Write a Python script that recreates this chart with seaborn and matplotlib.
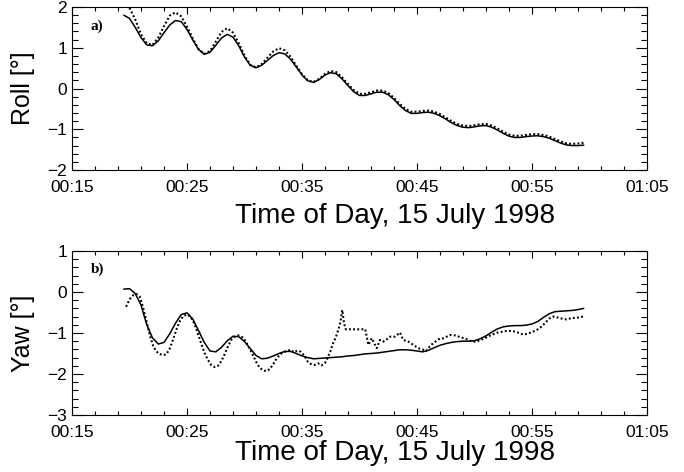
import numpy as np
import pandas as pd
import matplotlib
matplotlib.use("Agg")
import matplotlib.pyplot as plt
import seaborn as sns

# Time in minutes after 00:00 UT, 15 July 1998
roll_time = np.arange(19.5, 60.0, 0.5)
roll_model = [
    1.80, 1.72, 1.50, 1.25, 1.07, 1.05, 1.17, 1.37, 1.56, 1.67,
    1.64, 1.45, 1.19, 0.96, 0.84, 0.89, 1.06, 1.24, 1.33, 1.26,
    1.05, 0.77, 0.57, 0.51, 0.57, 0.69, 0.81, 0.88, 0.85, 0.72,
    0.53, 0.33, 0.19, 0.15, 0.22, 0.33, 0.39, 0.36, 0.23, 0.07,
    -0.08, -0.17, -0.17, -0.13, -0.09, -0.09, -0.15, -0.27, -0.42, -0.54,
    -0.61, -0.61, -0.59, -0.58, -0.61, -0.67, -0.75, -0.84, -0.91, -0.95,
    -0.96, -0.94, -0.915, -0.91, -0.95, -1.02, -1.10, -1.17, -1.20, -1.20,
    -1.18, -1.165, -1.16, -1.18, -1.22, -1.28, -1.34, -1.385, -1.40, -1.40,
    -1.39,
]
roll_meas_time = np.arange(20.0, 60.0, 0.5)
roll_meas = [
    1.98, 1.69, 1.33, 1.11, 1.07, 1.25, 1.53, 1.79, 1.87, 1.77,
    1.52, 1.23, 0.97, 0.85, 0.92, 1.15, 1.39, 1.48, 1.37, 1.11,
    0.81, 0.58, 0.52, 0.60, 0.76, 0.91, 0.99, 0.94, 0.78, 0.56,
    0.35, 0.20, 0.16, 0.24, 0.36, 0.43, 0.40, 0.27, 0.11, -0.04,
    -0.13, -0.13, -0.09, -0.05, -0.05, -0.11, -0.23, -0.38, -0.50, -0.57,
    -0.57, -0.55, -0.54, -0.57, -0.63, -0.71, -0.80, -0.87, -0.91, -0.92,
    -0.90, -0.875, -0.87, -0.91, -0.98, -1.06, -1.13, -1.16, -1.16, -1.14,
    -1.12, -1.12, -1.14, -1.18, -1.24, -1.30, -1.345, -1.36, -1.35, -1.33,
]

yaw_time = np.arange(19.5, 60.0, 0.5)
yaw_model = [
    0.07, 0.08, -0.04, -0.32, -0.80, -1.12, -1.27, -1.23, -1.02, -0.76,
    -0.55, -0.51, -0.66, -0.94, -1.23, -1.44, -1.46, -1.35, -1.19, -1.08,
    -1.09, -1.21, -1.38, -1.55, -1.63, -1.615, -1.56, -1.50, -1.45, -1.45,
    -1.50, -1.56, -1.60, -1.63, -1.62, -1.61, -1.60, -1.59, -1.58, -1.56,
    -1.55, -1.53, -1.51, -1.50, -1.49, -1.47, -1.45, -1.43, -1.41, -1.41,
    -1.42, -1.44, -1.46, -1.42, -1.36, -1.30, -1.26, -1.23, -1.21, -1.20,
    -1.20, -1.19, -1.14, -1.07, -0.98, -0.90, -0.85, -0.83, -0.82, -0.82,
    -0.81, -0.78, -0.72, -0.62, -0.53, -0.48, -0.47, -0.46, -0.45, -0.43,
    -0.40,
]
yaw_meas_time = [
    19.7, 20.0, 20.3, 20.6, 20.9, 21.2, 21.5, 21.8, 22.1, 22.5,
    22.9, 23.2, 23.5, 23.8, 24.1, 24.4, 24.7, 25.0, 25.3, 25.6,
    25.9, 26.2, 26.5, 26.8, 27.1, 27.4, 27.7, 28.0, 28.3, 28.6,
    28.9, 29.2, 29.5, 29.8, 30.1, 30.4, 30.7, 31.0, 31.3, 31.6,
    31.9, 32.2, 32.5, 32.8, 33.1, 33.4, 33.7, 34.0, 34.3, 34.6,
    34.9, 35.2, 35.5, 35.8, 36.1, 36.4, 36.7, 37.0, 37.2, 37.45,
    37.7, 37.95, 38.2, 38.35, 38.5, 38.65, 38.8, 40.5, 40.77, 41.06,
    41.5, 41.78, 42.07, 42.4, 42.65, 43.09, 43.52, 43.8, 44.24, 44.68,
    45.1, 45.55, 45.8, 46.1, 46.4, 46.9, 47.3, 47.87, 48.3, 48.75,
    49.3, 49.8, 50.2, 50.5, 50.9, 51.3, 51.64, 52.0, 52.4, 52.8,
    53.2, 53.6, 53.96, 54.24, 54.6, 55.0, 55.4, 55.8, 56.2, 56.5,
    56.85, 57.2, 57.6, 58.0, 58.4, 58.8, 59.2, 59.5,
]
yaw_meas = [
    -0.36, -0.18, -0.08, -0.05, -0.12, -0.40, -0.75, -1.09, -1.35, -1.50,
    -1.54, -1.52, -1.38, -1.15, -0.90, -0.70, -0.58, -0.55, -0.60, -0.75,
    -0.98, -1.23, -1.47, -1.65, -1.78, -1.83, -1.80, -1.68, -1.50, -1.30,
    -1.15, -1.08, -1.06, -1.10, -1.20, -1.36, -1.52, -1.70, -1.84, -1.91,
    -1.93, -1.88, -1.76, -1.62, -1.52, -1.47, -1.44, -1.41, -1.47, -1.43,
    -1.46, -1.55, -1.70, -1.76, -1.78, -1.74, -1.79, -1.73, -1.62, -1.46,
    -1.25, -1.10, -0.88, -0.72, -0.44, -0.76, -0.91, -0.91, -1.29, -1.13,
    -1.37, -1.17, -1.21, -1.15, -1.09, -1.09, -0.99, -1.17, -1.21, -1.29,
    -1.37, -1.41, -1.44, -1.33, -1.25, -1.15, -1.13, -1.05, -1.06, -1.10,
    -1.15, -1.21, -1.21, -1.17, -1.13, -1.07, -1.03, -0.99, -0.97, -0.95,
    -0.95, -0.97, -1.01, -1.04, -1.02, -0.98, -0.93, -0.85, -0.74, -0.65,
    -0.60, -0.62, -0.65, -0.67, -0.64, -0.63, -0.62, -0.59,
]

x_major = [15, 25, 35, 45, 55, 65]
x_labels = ["00:15", "00:25", "00:35", "00:45", "00:55", "01:05"]
xlabel = "Time of Day, 15 July 1998"

sns.set_theme(style="ticks")
plt.rcParams["font.family"] = ["Liberation Sans", "DejaVu Sans"]
plt.rcParams["axes.linewidth"] = 0.8
plt.rcParams["text.color"] = "black"
plt.rcParams["axes.labelcolor"] = "black"
plt.rcParams["xtick.color"] = "black"
plt.rcParams["ytick.color"] = "black"

fig = plt.figure(figsize=(6.84, 4.72), dpi=100)
ax1 = fig.add_axes([0.1053, 0.6398, 0.8406, 0.3453])
ax2 = fig.add_axes([0.1053, 0.1208, 0.8406, 0.3475])

dot_style = dict(color="black", linewidth=1.5, linestyle=(0, (0.9, 1.1)))
line_style = dict(color="black", linewidth=1.1)

roll_df = pd.DataFrame({"t": roll_time, "v": roll_model})
roll_m_df = pd.DataFrame({"t": roll_meas_time, "v": roll_meas})
yaw_df = pd.DataFrame({"t": yaw_time, "v": yaw_model})
yaw_m_df = pd.DataFrame({"t": yaw_meas_time, "v": yaw_meas})

sns.lineplot(data=roll_df, x="t", y="v", ax=ax1, errorbar=None, **line_style)
sns.lineplot(data=roll_m_df, x="t", y="v", ax=ax1, errorbar=None, **dot_style)
sns.lineplot(data=yaw_df, x="t", y="v", ax=ax2, errorbar=None, **line_style)
sns.lineplot(data=yaw_m_df, x="t", y="v", ax=ax2, errorbar=None, **dot_style)

panels = [
    (ax1, (-2, 2), "Roll [°]", "a)", 0.859, -0.2),
    (ax2, (-3, 1), "Yaw [°]", "b)", 0.864, -0.15),
]
for ax, ylim, ylab, tag, tag_y, xlab_y in panels:
    ax.set_xlim(15, 65)
    ax.set_ylim(*ylim)
    ax.set_xticks(x_major)
    ax.set_xticklabels(x_labels)
    ax.set_xticks(np.arange(15, 66, 2), minor=True)
    ax.set_yticks(np.arange(ylim[0], ylim[1] + 1, 1))
    ax.set_yticks(np.arange(ylim[0], ylim[1] + 0.01, 0.2), minor=True)
    ax.tick_params(axis="both", which="both", direction="in", top=True,
                   right=True, colors="black", labelcolor="black", width=0.8)
    ax.tick_params(axis="x", which="major", length=5, pad=7, labelsize=12.5)
    ax.tick_params(axis="x", which="minor", length=3)
    ax.tick_params(axis="y", which="major", length=8, pad=3.5, labelsize=12.5)
    ax.tick_params(axis="y", which="minor", length=4)
    ax.set_xlabel(xlabel, fontsize=20, color="black")
    ax.xaxis.set_label_coords(0.561, xlab_y)
    ax.set_ylabel(ylab, fontsize=18, color="black")
    ax.yaxis.set_label_coords(-0.064, 0.5)
    for sp in ax.spines.values():
        sp.set_color("black")
        sp.set_linewidth(0.8)
    ax.text(0.033, tag_y, tag, transform=ax.transAxes, fontsize=11,
            fontweight="bold", color="black",
            family=["Liberation Serif", "DejaVu Serif"],
            va="baseline", ha="left")

fig.savefig("out.png", dpi=100, facecolor="white")
